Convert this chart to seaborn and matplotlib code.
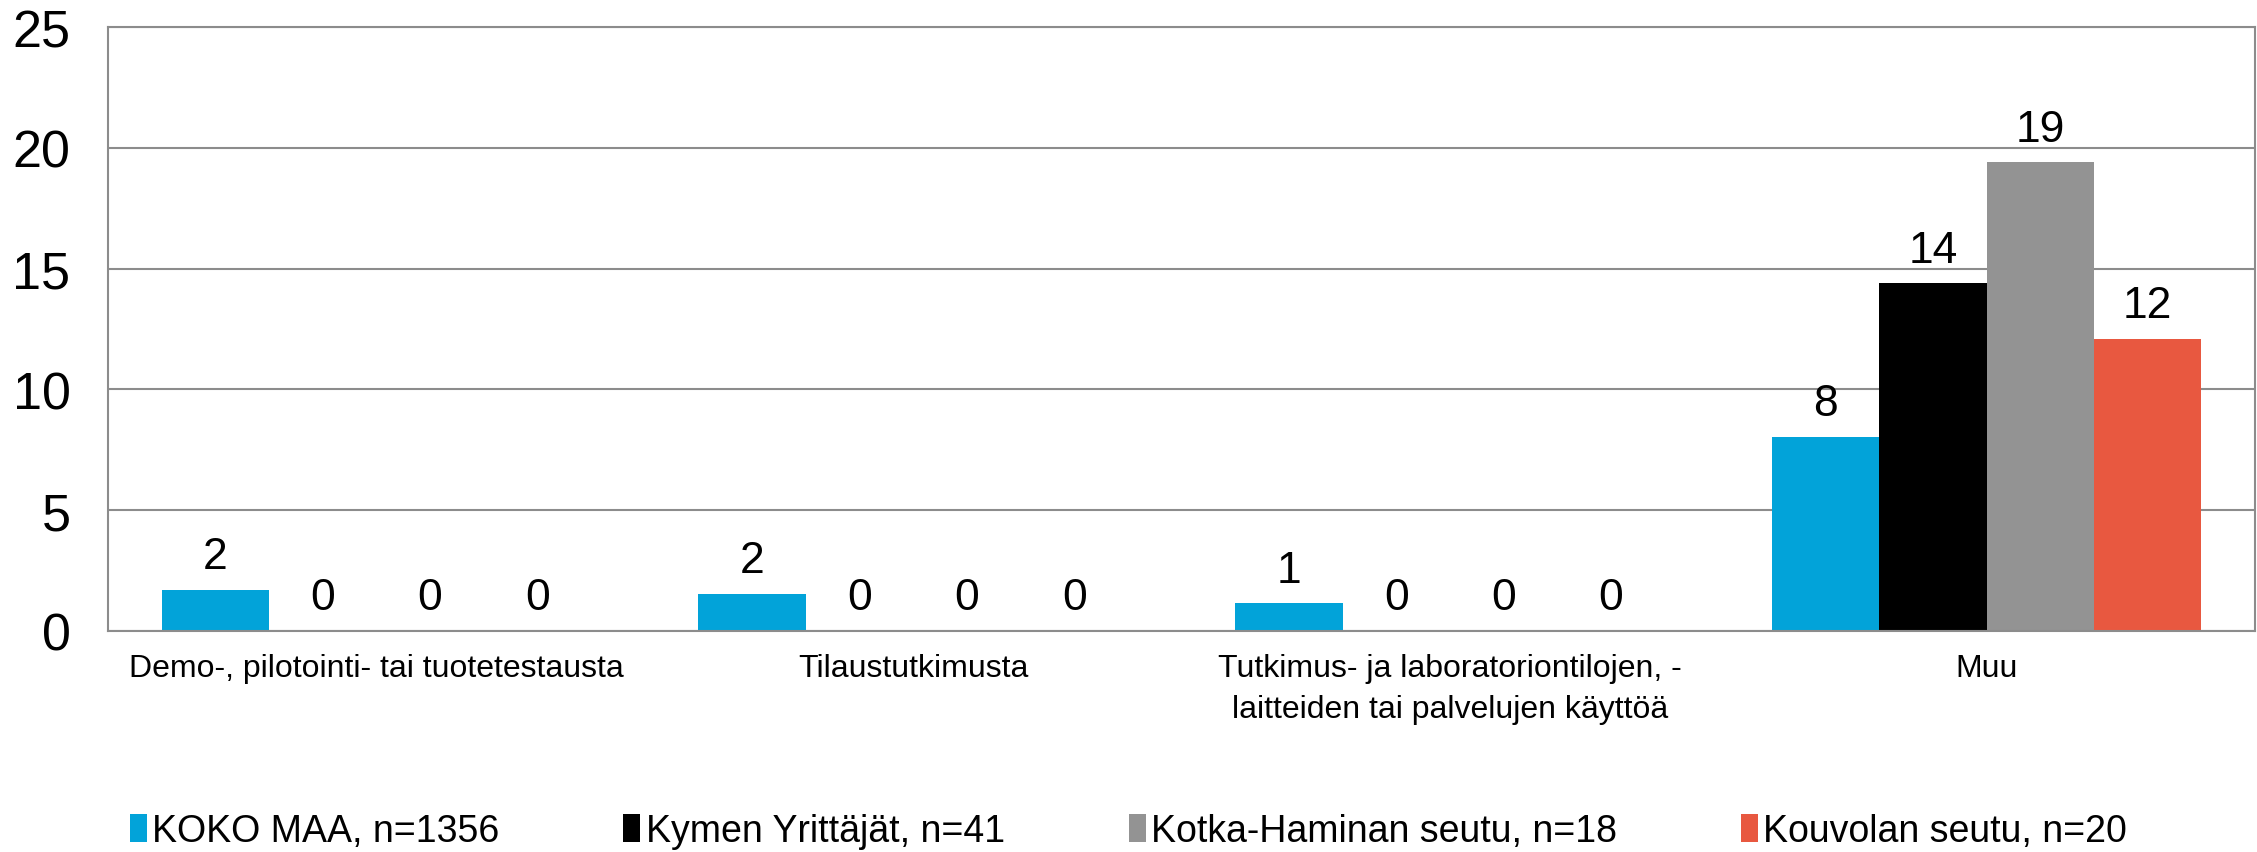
import matplotlib
matplotlib.use("Agg")
import matplotlib.pyplot as plt
import seaborn as sns
import pandas as pd

categories = [
    "Demo-, pilotointi- tai tuotetestausta",
    "Tilaustutkimusta",
    "Tutkimus- ja laboratoriontilojen, -\nlaitteiden tai palvelujen käyttöä",
    "Muu",
]
series_names = [
    "KOKO MAA, n=1356",
    "Kymen Yrittäjät, n=41",
    "Kotka-Haminan seutu, n=18",
    "Kouvolan seutu, n=20",
]
koko_maa = [1.7, 1.55, 1.15, 8.05]
kymen = [0, 0, 0, 14.4]
kotka = [0, 0, 0, 19.4]
kouvola = [0, 0, 0, 12.1]
colors = ["#02A3D9", "#000000", "#939393", "#E85840"]
y_ticks = [0, 5, 10, 15, 20, 25]

rows = []
for name, vals in zip(series_names, [koko_maa, kymen, kotka, kouvola]):
    for c, v in zip(categories, vals):
        rows.append({"cat": c, "series": name, "value": v})
df = pd.DataFrame(rows)

sns.set_theme(style="white")
plt.rcParams["font.family"] = ["Liberation Sans", "DejaVu Sans"]

fig = plt.figure(figsize=(22.57, 8.53), dpi=100)
ax = fig.add_axes([108 / 2257, 1 - 632 / 853, (2255 - 108) / 2257, (632 - 28) / 853])

sns.barplot(data=df, x="cat", y="value", hue="series", palette=colors,
            order=categories, hue_order=series_names, width=0.8,
            saturation=1, ax=ax, legend=True, linewidth=0)

for cont in ax.containers:
    ax.bar_label(cont, fmt="%.0f", padding=9, fontsize=32, color="black")

ax.set_ylim(0, 25)
ax.set_yticks(y_ticks)
ax.set_xlim(-0.5, 3.5)
ax.yaxis.grid(True, color="#8c8c8c", linewidth=1.5)
ax.set_axisbelow(True)
for s in ax.spines.values():
    s.set_color("#8c8c8c")
    s.set_linewidth(1.5)
ax.set_xlabel("")
ax.set_ylabel("")
ax.tick_params(axis="y", labelsize=37.5, pad=27, length=0, colors="black")
ax.tick_params(axis="x", labelsize=23, pad=16, length=0, colors="black")
for t in ax.get_xticklabels():
    t.set_linespacing(1.45)

handles, labels = ax.get_legend_handles_labels()
ax.legend_.remove()
fig.legend(handles, labels, loc="center", bbox_to_anchor=(0.5, 1 - 832 / 853),
           ncol=4, frameon=False, fontsize=27, handlelength=0.45,
           handleheight=0.75, handletextpad=0.15, columnspacing=3.3,
           labelcolor="black")

fig.savefig("out.png", dpi=100)
